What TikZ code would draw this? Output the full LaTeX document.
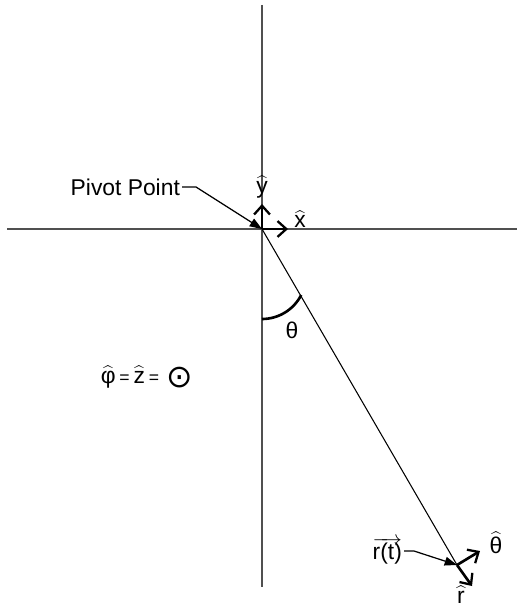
\documentclass[tikz,border=0pt]{standalone}
\usepackage{fontspec}
\setmainfont{Liberation Sans}
\newfontfamily\symfont{DejaVu Sans}
\usetikzlibrary{arrows.meta,positioning,calc}
\definecolor{AxisGray}{HTML}{505050}
\newcommand{\uvec}[1]{\ensuremath{\widehat{\mbox{#1}}}}

\begin{document}
\begin{tikzpicture}[
    x=0.02cm, y=-0.02cm,
    font=\fontsize{13}{15}\selectfont,
    axis/.style={draw=AxisGray, line width=0.9pt},
    rod/.style={draw=black, line width=0.6pt},
    unitvec/.style={draw=black, line width=1.5pt, -{Straight Barb[length=5pt, width=9pt, line width=1.3pt]}},
    leader/.style={draw=black, line width=0.7pt, -{Triangle[length=7pt, width=5pt]}},
    lbl/.style={inner sep=1pt}
]
  \useasboundingbox (0,0) rectangle (517,608);

  % Axes
  \coordinate (ytop) at (262,5);
  \coordinate (ybot) at (262,587);
  \coordinate (xleft) at (7,229);
  \coordinate (xright) at (517,229);
  \coordinate (pivot) at (262,229);
  \coordinate (bob) at (457,565);

  \draw[axis] (ytop) -- (ybot);
  \draw[axis] (xleft) -- (xright);

  % Pendulum rod
  \draw[rod] (pivot) -- (bob);

  % Angle theta
  \draw[line width=1.5pt] (262,319) arc[start angle=90, end angle=27, radius=44];
  \node[lbl] (theta) at (292,330) {θ};

  % Cartesian unit vectors at pivot
  \draw[unitvec] (pivot) -- (262,204);
  \draw[unitvec] (pivot) -- (288,229);
  \node[lbl] (yhat) at (262,187) {\uvec{y}};
  \node[lbl] (xhat) at (300,219) {\uvec{x}};

  % Pivot point label
  \node[lbl, anchor=east] (lblPivot) at (182,187) {Pivot Point};
  \draw[leader] (lblPivot.east) -- ++(14,0) -- (pivot);

  % phi = z = out of page
  \node[lbl] (phiz) at (147,377) {\uvec{φ}\,{\fontsize{10}{12}\selectfont =}\,\uvec{z}\,{\fontsize{10}{12}\selectfont =}\,\,\raisebox{-2.5pt}{\symfont\fontsize{18}{18}\selectfont ⊙}};

  % Polar unit vectors at bob
  \draw[unitvec] (bob) -- (480,551);
  \draw[unitvec] (bob) -- (472,586);
  \node[lbl] (thetahat) at (496,543) {\uvec{θ}};
  \node[lbl] (rhat) at (461,595) {\uvec{r}};

  % r(t) label
  \node[lbl, anchor=east] (lblr) at (404,551) {$\overrightarrow{\mbox{r(t)}}$};
  \draw[leader] (lblr.east) -- ++(10,0) -- (bob);

\end{tikzpicture}
\end{document}
